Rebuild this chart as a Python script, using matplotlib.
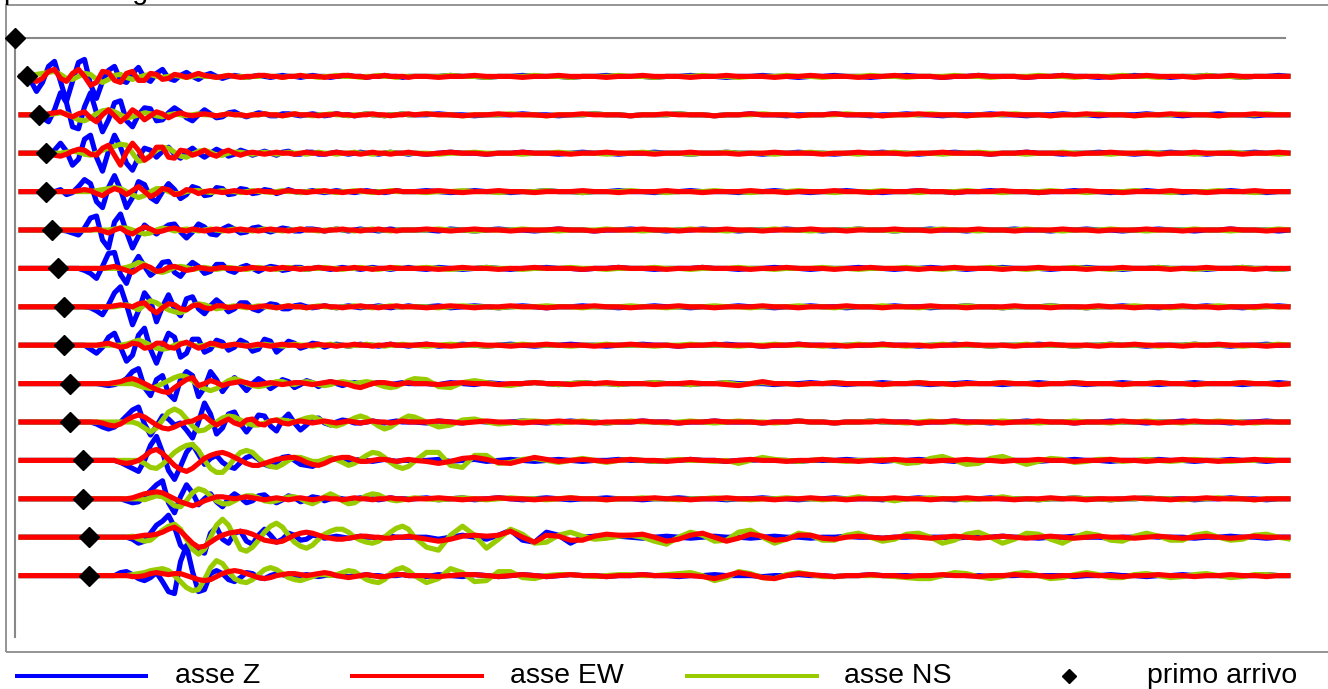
import numpy as np
import matplotlib
matplotlib.use("Agg")
import matplotlib.pyplot as plt
from matplotlib.lines import Line2D
from matplotlib.patches import Rectangle

plt.rcParams['font.family'] = ['Liberation Sans', 'DejaVu Sans']

# ---------------- data ----------------
TITLE = "posizione geofoni"
LABELS = ["asse Z", "asse EW", "asse NS", "primo arrivo"]
COLORS = {"Z": "#0000FF", "EW": "#FF0000", "NS": "#99CC00"}

# sample grid (ms): head samples every 3 ms from 2 ms, tail samples every 6 ms from 206 ms
HEAD_T0, HEAD_DT = 2.0, 3.0
TAIL_T0, TAIL_DT = 206.0, 6.0
GAIN = 1 / 38.4          # amplitude counts -> trace spacing

TRACES = list(range(1, 15))
ARRIVAL_TRACE = list(range(0, 15))
ARRIVAL_MS = [0.0, 6.1, 12.3, 15.6, 15.6, 18.6, 21.6, 24.9, 24.9, 27.8, 27.8, 34.4, 34.4, 37.3, 37.3]

Z_HEAD = [
 [0,0,-4,-15,-6,10,15,-5,-25,-5, 14,17,-8,-22,-5,6,10,-4,-6,3, 9,-2,-5,3,7,-2,-4,1,4,0, -3,1,3,0,-2,0,1,0,-1,0, 1,0,-1,0,1,0,0,-1,0,1, 0,0,-1,0,0,1,0,0,-1,0, 0,1,0,0,-1,0,0],
 [0,0,0,0,-3,-7,5,22,12,-12, -14,8,22,2,-17,-5,12,14,-6,-12, 0,7,6,-6,-5,2,7,3,-3,-6, 0,5,1,-3,-2,2,3,0,-2,0, 2,1,-1,-1,1,1,0,-1,0,1, 0,-1,0,1,0,0,-1,0,1,0, 0,-1,0,0,1,0,0],
 [0,0,0,0,0,-2,3,10,2,-12, -6,14,18,-4,-18,2,18,6,-10,-17, -4,5,3,-4,2,6,-1,-5,1,5, 0,-4,0,4,1,-3,-1,3,1,-2, 0,2,0,-2,1,2,-1,-1,1,1, -1,-1,0,1,0,-1,0,1,0,0, -1,0,1,0,0,-1,0],
 [0,0,0,0,0,0,0,2,-3,-1, 5,12,8,-10,-16,4,16,2,-16,-6, 10,7,-6,-10,0,8,2,-7,-3,5, 3,-4,-3,4,3,-3,-2,3,2,-2, -1,2,1,-2,0,2,0,-1,0,1, 0,-1,0,1,0,0,-1,0,1,0, 0,-1,0,1,0,0,0],
 [0,0,0,0,0,0,0,0,-1,-3, -5,2,12,14,-10,-18,8,16,-2,-18, -6,5,0,-4,1,5,6,-2,-8,-2, 6,3,-4,-5,1,4,1,-3,-2,2, 3,0,-2,0,2,1,-1,-1,1,1, 0,-1,0,1,0,-1,0,1,0,0, -1,0,1,0,0,0,0],
 [0,0,0,0,0,0,0,0,0,0, 0,-2,-5,-10,2,15,16,-6,-15,2, 12,2,-7,-2,6,7,-4,-8,0,6, 2,-5,-3,4,4,-2,-4,1,3,0, -3,0,2,1,-2,-1,1,1,-1,0, 1,0,-1,0,1,0,0,-1,0,1, 0,0,-1,0,0,1,0],
 [0,0,0,0,0,0,0,0,0,0, 0,0,-1,-4,-8,2,14,20,2,-18, -4,14,6,-15,0,12,-2,-9,8,10, -2,-7,1,7,2,-5,-2,4,4,-2, -4,0,3,2,-2,-2,1,2,0,-1, 0,1,0,-1,0,1,0,-1,0,0, 1,0,-1,0,0,1,0],
 [0,0,0,0,0,0,0,0,0,0, 0,0,-4,-8,-2,8,12,-2,-16,-10, 10,17,-4,-18,-2,12,8,-12,-8,6, 6,-7,-4,5,3,-5,-2,5,2,-6, -4,6,4,-7,-2,4,2,-3,-1,2, 1,-2,0,1,0,-1,0,1,0,0, -1,0,1,0,0,-1,0],
 [0,0,0,0,0,0,0,0,0,0, 0,0,0,0,-1,-2,-1,1,5,12, 15,-4,-12,4,8,-10,-16,4,12,8, -13,-4,12,4,-8,0,6,0,-7,0, 5,1,-5,-1,4,2,-4,-1,3,1, -3,0,2,0,-2,0,1,0,-1,0, 1,0,-1,0,1,0,0],
 [0,0,0,0,0,0,0,0,0,0, 0,0,0,-2,-5,-7,-5,0,6,12, 15,-2,-13,-4,6,3,-3,-1,-8,-16, 0,19,8,-12,-6,8,10,-2,-10,-2, 7,6,-4,-9,2,8,-1,-8,-3,3, 4,-1,-3,0,2,1,-1,-1,0,1, 0,-1,0,1,0,0,0],
 [0,0,0,0,0,0,0,0,0,0, 0,0,0,0,0,0,0,-2,-5,-8, -11,0,15,24,8,-10,-19,-6,8,16, 6,-4,2,5,-2,-6,-8,-2,3,5, 1,-4,-6,-2,3,4,0,-4,-5,-6, -3,0,2,1,-1,-2,0,1,0,-1, 0,1,0,-1,0,0,0],
 [0,0,0,0,0,0,0,0,0,0, 0,0,0,0,0,0,0,0,-2,-4, -3,2,8,14,18,-4,-14,2,14,6, -6,0,5,-3,-8,0,5,1,-4,-2, 3,4,-1,-4,-1,3,1,-3,-1,2, 1,-2,0,1,0,-1,0,1,0,0, -1,0,1,0,0,0,0],
 [0,0,0,0,0,0,0,0,0,0, 0,0,0,0,0,0,0,0,0,-2, -6,-4,4,12,16,22,10,-8,-14,-8, -14,-16,4,10,-2,-6,4,6,-4,-7, 2,8,2,-5,-2,4,2,-3,-2,2, 1,-1,0,1,0,-1,0,1,0,0, -1,0,1,0,0,0,0],
 [0,0,0,0,0,0,0,0,0,0, 0,0,0,0,0,0,0,3,4,1, -3,-5,-2,3,-6,-16,-18,14,30,4, -16,-14,2,5,2,-4,-6,-2,3,2, -2,-3,0,2,1,-1,-1,0,1,0, -1,0,1,0,0,-1,0,0,1,0, 0,-1,0,0,1,0,0],
]

Z_TAIL = [
 [0,0,1,0,0,-1,0,0,1,0, 0,0,-1,0,0,1,0,0,0,-1, 0,0,1,0,0,-1,0,0,1,0, 0,-1,0,0,1,0,0,-1,0,0, 1,0,0,-1,0,0,1,0,0,0, -1,0,0,1,0,0,-1,0,0,1, 0,0,-1,0,0,1,0,0,-1,0, 0,1,0],
 [0,1,0,0,-1,0,0,0,1,0, 0,-1,0,0,1,0,0,-1,0,0, 0,1,0,0,-1,0,0,1,0,0, -1,0,0,0,1,0,0,-1,0,0, 1,0,0,-1,0,0,0,1,0,0, -1,0,0,1,0,0,-1,0,0,0, 1,0,0,-1,0,0,1,0,0,-1, 0,0,0],
 [-1,0,1,0,0,-1,0,0,1,0, 0,-1,0,1,0,0,-1,0,0,1, 0,0,-1,0,0,1,0,0,-1,0, 0,1,0,0,-1,0,0,0,1,0, 0,-1,0,0,1,0,0,-1,0,0, 1,0,0,-1,0,0,1,0,0,-1, 0,0,1,0,0,-1,0,0,0,1, 0,0,0],
 [1,0,-1,0,1,0,0,-1,0,0, 1,0,0,-1,0,0,1,0,0,-1, 0,0,1,0,0,0,-1,0,0,1, 0,0,-1,0,0,1,0,0,-1,0, 0,1,0,0,-1,0,0,1,0,0, 0,-1,0,0,1,0,0,-1,0,0, 1,0,0,-1,0,0,0,1,0,0, -1,0,0],
 [0,-1,1,0,-1,0,1,0,0,-1, 0,1,0,0,-1,0,0,1,0,0, -1,0,0,1,0,0,-1,0,0,0, 1,0,0,-1,0,0,1,0,0,-1, 0,0,1,0,0,-1,0,0,0,1, 0,0,-1,0,0,1,0,0,-1,0, 0,1,0,0,-1,0,0,1,0,0, 0,-1,0],
 [-1,1,0,-1,0,1,0,-1,0,0, 1,0,0,-1,0,0,1,0,0,-1, 0,0,0,1,0,0,-1,0,0,1, 0,0,-1,0,0,0,1,0,0,-1, 0,0,1,0,0,-1,0,0,1,0, 0,0,-1,0,0,1,0,0,-1,0, 0,1,0,0,0,-1,0,0,1,0, 0,-1,0],
 [0,1,-1,0,1,0,-1,0,1,0, -1,0,0,1,0,0,-1,0,0,1, 0,0,-1,0,0,0,1,0,0,-1, 0,0,1,0,0,-1,0,0,0,1, 0,0,-1,0,0,1,0,0,-1,0, 0,0,1,0,0,-1,0,0,1,0, 0,-1,0,0,0,1,0,0,-1,0, 0,1,0],
 [1,-1,0,1,0,-1,0,1,0,-1, 0,0,1,0,0,-1,0,0,1,0, 0,-1,0,0,0,1,0,0,-1,0, 0,1,0,0,-1,0,0,0,1,0, 0,-1,0,0,1,0,0,-1,0,0, 0,1,0,0,-1,0,0,1,0,0, -1,0,0,0,1,0,0,-1,0,0, 1,0,0],
 [0,-1,1,0,-1,1,0,-1,0,1, 0,-1,0,1,0,0,-1,0,0,1, 0,0,-1,0,0,1,0,0,0,-1, 0,0,1,0,0,-1,0,0,1,0, 0,0,-1,0,0,1,0,0,-1,0, 0,1,0,0,0,-1,0,0,1,0, 0,-1,0,0,1,0,0,0,-1,0, 0,1,0],
 [-1,1,0,-1,1,0,-1,0,1,0, -1,0,1,0,0,-1,0,0,1,0, 0,-1,0,0,1,0,0,0,-1,0, 0,1,0,0,-1,0,0,1,0,0, 0,-1,0,0,1,0,0,-1,0,0, 1,0,0,0,-1,0,0,1,0,0, -1,0,0,1,0,0,0,-1,0,0, 1,0,0],
 [0,1,-1,0,1,-1,0,1,0,-1, 0,1,0,-1,0,0,1,0,0,-1, 0,0,1,0,0,-1,0,0,1,0, 0,-1,0,0,0,1,0,0,-1,0, 0,1,0,0,-1,0,0,0,1,0, 0,-1,0,0,1,0,0,-1,0,0, 0,1,0,0,-1,0,0,1,0,0, -1,0,0],
 [1,-1,0,1,-1,0,1,0,-1,0, 1,0,-1,0,0,1,0,0,-1,0, 0,1,0,0,0,-1,0,0,1,0, 0,-1,0,0,1,0,0,0,-1,0, 0,1,0,0,-1,0,0,1,0,0, 0,-1,0,0,1,0,0,-1,0,0, 1,0,0,0,-1,0,0,1,0,0, -1,0,0],
 [0,-2,0,2,0,-2,2,7,-3,-5, 5,2,-6,0,1,0,1,0,-1,0, 1,0,-1,0,1,0,0,-1,0,1, 0,0,-1,0,0,1,0,0,-1,0, 0,1,0,0,-1,0,0,0,1,0, 0,-1,0,0,1,0,0,-1,0,0, 1,0,0,0,-1,0,0,1,0,0, -1,0,0],
 [-1,1,0,-1,1,0,-1,0,1,0, -1,0,1,0,0,-1,0,0,1,0, 0,-1,0,0,1,0,0,0,-1,0, 0,1,0,0,-1,0,0,1,0,0, 0,-1,0,0,1,0,0,-1,0,0, 1,0,0,0,-1,0,0,1,0,0, -1,0,0,1,0,0,0,-1,0,0, 1,0,0],
]

EW_HEAD = [
 [0,0,-2,-5,-2,5,7,-2,-5,3, 7,0,-9,-6,5,4,-4,-6,3,5, -4,-4,3,2,-3,-2,2,1,-1,1, 3,1,0,-1,0,1,0,-1,0,0, 1,1,0,0,-1,0,0,1,0,0, 0,-1,0,0,1,1,0,0,-1,0, 0,1,0,0,0,-1,0],
 [0,0,0,0,0,1,2,3,0,-2, 1,3,-3,-7,0,5,-1,-7,-2,5, 1,-5,-1,3,1,-3,0,2,0,-1, 0,1,0,-1,0,1,0,0,-1,0, 0,1,0,0,-1,0,1,0,0,0, -1,0,0,1,0,0,-1,0,0,1, 0,0,-1,0,0,1,0],
 [0,0,0,0,0,-1,-2,-3,-1,2, 4,3,-1,-2,5,8,-2,-12,1,10, 3,-7,-3,6,6,-4,-5,3,2,-2, 0,3,-1,-3,1,3,0,-2,0,1, 0,-1,0,1,0,0,-1,0,1,0, 0,-1,0,1,0,0,0,-1,0,1, 0,0,-1,0,0,1,0],
 [0,0,0,0,0,0,0,0,0,0, 1,2,1,-2,-4,0,3,1,-3,1, 5,0,-5,-2,3,2,-3,-2,2,1, -2,0,1,0,-1,0,1,0,-1,0, 1,0,0,-1,0,1,0,0,-1,0, 0,1,0,0,-1,0,0,1,0,0, -1,0,0,1,0,0,0],
 [0,0,0,0,0,0,0,0,0,0, 0,0,0,1,-1,-3,0,2,-2,-4, 0,3,1,-2,-1,1,2,0,-1,1, 0,-1,0,1,0,-1,0,1,0,0, -1,0,1,0,0,-1,0,1,0,0, 0,-1,0,0,1,0,0,-1,0,0, 1,0,0,-1,0,0,0],
 [0,0,0,0,0,0,0,0,0,0, 0,0,0,0,0,1,2,0,-2,-4, 0,3,1,-3,-2,1,2,0,-2,-1, 1,0,-1,0,1,0,0,-1,0,1, 0,0,-1,0,1,0,0,-1,0,0, 1,0,0,-1,0,0,1,0,0,-1, 0,0,1,0,0,0,0],
 [0,0,0,0,0,0,0,0,0,0, 0,0,0,0,0,0,1,2,1,0, 3,4,-2,-6,-1,3,2,-2,-3,1, 2,-1,-2,1,1,-1,0,1,0,-1, 0,1,0,-1,0,1,0,0,-1,0, 0,1,0,0,-1,0,0,1,0,0, -1,0,0,1,0,0,0],
 [0,0,0,0,0,0,0,0,0,0, 0,0,0,0,1,2,0,-2,-1,2, 1,-3,-2,2,2,-2,-3,1,3,0, -3,-1,2,1,-1,0,1,0,-1,0, 1,0,-1,0,1,0,0,-1,0,0, 1,0,0,-1,0,0,1,0,0,-1, 0,0,1,0,0,0,0],
 [0,0,0,0,0,0,0,0,0,0, 0,0,0,0,0,0,1,2,4,5, 3,0,-3,-6,-8,-9,-4,0,4,6, -2,0,3,1,-2,0,1,2,1,-1, -1,0,1,0,-1,0,1,1,0,-1, 0,1,2,1,0,-1,-3,-4,-2,0, 1,1,0,-1,0,1,0],
 [0,0,0,0,0,0,0,0,0,0, 0,0,0,0,-1,-3,-4,-2,2,5, 7,5,1,-3,-6,-7,-5,-2,0,1, 4,6,1,-3,0,3,-1,-3,2,3, -2,-3,1,2,-1,-2,0,1,0,-1, 0,1,0,-1,0,1,0,-1,0,1, 0,0,-1,0,1,0,0],
 [0,0,0,0,0,0,0,0,0,0, 0,0,0,0,0,0,0,-2,-3,-2, 0,4,9,11,7,1,-5,-9,-11,-8, -3,2,5,7,8,6,3,0,-3,-5, -5,-3,-1,1,2,3,3,1,-2,-4, -5,-3,0,2,3,3,1,-1,-1,0, 1,1,0,-1,0,1,0],
 [0,0,0,0,0,0,0,0,0,0, 0,0,0,0,0,0,0,0,0,1, 3,5,6,7,6,3,0,-3,-5,-7, -5,-2,0,2,2,1,0,1,2,1, 0,-1,0,1,0,-1,0,1,0,-1, 0,1,0,0,-1,0,1,0,0,-1, 0,0,1,0,0,-1,0],
 [0,0,0,0,0,0,0,0,0,0, 0,0,0,0,0,0,0,0,0,0, 1,2,2,3,5,8,10,6,0,-6, -10,-9,-5,-1,2,4,5,6,5,3, 0,-3,-4,-5,-4,-1,2,4,5,4, 2,0,-1,-2,-2,-1,0,1,1,0, 0,-1,-1,0,0,1,0],
 [0,0,0,0,0,0,0,0,0,0, 0,0,0,0,0,0,0,0,0,-1, -1,0,2,3,2,1,2,2,0,-2, -4,-5,-4,-1,2,4,5,4,2,0, -2,-3,-2,0,1,2,2,1,0,1, 2,3,2,0,-1,-2,-1,0,1,0, -1,-1,0,1,1,0,0],
]

EW_TAIL = [
 [0,-1,0,0,1,0,0,0,-1,0, 0,1,0,0,0,-1,0,0,1,0, 0,0,-1,0,0,1,0,0,0,-1, 0,0,1,0,0,0,-1,0,0,1, 0,0,0,-1,0,0,1,0,0,0, -1,0,0,1,0,0,0,-1,0,0, 1,0,0,0,-1,0,0,1,0,0, 0,0,0],
 [1,0,0,-1,0,0,1,0,0,0, -1,0,0,1,0,0,0,-1,0,0, 1,0,0,0,-1,0,0,1,0,0, 0,-1,0,0,1,0,0,0,-1,0, 0,1,0,0,0,-1,0,0,1,0, 0,0,-1,0,0,1,0,0,0,-1, 0,0,1,0,0,0,-1,0,0,1, 0,0,0],
 [-1,0,1,0,0,-1,0,0,1,0, 0,0,-1,0,0,1,0,0,0,-1, 0,0,1,0,0,0,-1,0,0,1, 0,0,0,-1,0,0,1,0,0,0, -1,0,0,1,0,0,0,-1,0,0, 1,0,0,0,-1,0,0,1,0,0, 0,-1,0,0,1,0,0,0,-1,0, 0,1,0],
 [0,1,0,-1,0,0,1,0,0,-1, 0,0,0,1,0,0,-1,0,0,0, 1,0,0,-1,0,0,0,1,0,0, -1,0,0,0,1,0,0,-1,0,0, 0,1,0,0,-1,0,0,0,1,0, 0,-1,0,0,0,1,0,0,-1,0, 0,0,1,0,0,-1,0,0,0,1, 0,0,0],
 [1,0,-1,0,1,0,0,-1,0,0, 0,1,0,0,-1,0,0,0,1,0, 0,-1,0,0,0,1,0,0,-1,0, 0,0,1,0,0,-1,0,0,0,1, 0,0,-1,0,0,0,1,0,0,-1, 0,0,0,1,0,0,-1,0,0,0, 1,0,0,-1,0,0,0,1,0,0, -1,0,0],
 [0,-1,0,1,0,0,-1,0,0,1, 0,0,0,-1,0,0,1,0,0,0, -1,0,0,1,0,0,0,-1,0,0, 1,0,0,0,-1,0,0,1,0,0, 0,-1,0,0,1,0,0,0,-1,0, 0,1,0,0,0,-1,0,0,1,0, 0,0,-1,0,0,1,0,0,0,-1, 0,0,0],
 [-1,0,1,0,-1,0,0,1,0,0, -1,0,0,0,1,0,0,-1,0,0, 0,1,0,0,-1,0,0,0,1,0, 0,-1,0,0,0,1,0,0,-1,0, 0,0,1,0,0,-1,0,0,0,1, 0,0,-1,0,0,0,1,0,0,-1, 0,0,0,1,0,0,-1,0,0,0, 1,0,0],
 [1,0,-1,0,1,0,0,-1,0,0, 1,0,0,0,-1,0,0,1,0,0, 0,-1,0,0,1,0,0,0,-1,0, 0,1,0,0,0,-1,0,0,1,0, 0,0,-1,0,0,1,0,0,0,-1, 0,0,1,0,0,0,-1,0,0,1, 0,0,0,-1,0,0,1,0,0,0, -1,0,0],
 [0,-1,0,1,0,0,-1,0,0,1, 0,0,-1,0,0,1,0,0,0,-1, 0,0,1,0,0,-1,-2,0,2,0, 0,-1,0,0,1,0,0,0,-1,0, 0,1,0,0,-1,0,0,0,1,0, 0,-1,0,0,1,0,0,0,-1,0, 0,1,0,0,-1,0,0,0,1,0, 0,-1,0],
 [0,1,0,-1,0,1,0,0,-1,0, 0,1,0,0,-1,0,0,0,1,0, 0,-1,0,0,1,0,0,0,-1,0, 0,1,0,0,-1,0,0,0,1,0, 0,-1,0,0,1,0,0,0,-1,0, 0,1,0,0,-1,0,0,0,1,0, 0,-1,0,0,1,0,0,0,-1,0, 0,0,0],
 [-1,-3,-1,2,3,1,-2,-3,0,3, 1,-1,0,1,0,-1,0,1,0,0, -1,0,1,0,0,-1,0,1,0,0, -1,0,0,1,0,0,-1,0,0,1, 0,0,-1,0,0,1,0,0,-1,0, 0,1,0,0,-1,0,0,1,0,0, -1,0,0,1,0,0,-1,0,0,1, 0,0,0],
 [0,1,0,-1,0,0,1,0,0,-1, 0,0,1,0,0,-1,0,0,0,1, 0,0,-1,0,0,1,0,0,0,-1, 0,0,1,0,0,-1,0,0,0,1, 0,0,-1,0,0,1,0,0,0,-1, 0,0,1,0,0,-1,0,0,0,1, 0,0,-1,0,0,1,0,0,0,-1, 0,0,0],
 [-2,-4,-2,1,2,1,2,6,0,-5, 2,1,-3,-3,1,3,2,2,3,0, -4,-2,2,4,0,-4,-1,3,1,-3, -2,2,2,-1,-2,0,1,0,-1,0, 1,0,-1,0,1,0,-1,0,1,0, -1,0,1,0,-1,0,1,0,0,-1, 0,1,0,-1,0,1,0,-1,0,1, 0,0,0],
 [0,-1,0,1,1,0,-1,0,1,0, -1,0,1,0,0,-1,0,0,1,0, 0,0,0,-1,-3,0,3,1,-2,-3, 0,2,1,0,-1,0,0,1,0,0, -1,0,0,1,0,0,-1,0,0,1, 0,0,-1,0,0,1,0,0,-1,0, 0,1,0,0,-1,0,0,1,0,0, -1,0,0],
]

NS_HEAD = [
 [0,0,1,2,3,4,5,2,-2,-3, 0,3,2,-3,-6,-3,1,2,-1,-3, -1,1,2,0,-1,0,1,0,-1,0, 1,0,0,-1,0,1,0,0,-1,0, 0,1,0,0,-1,0,0,1,0,0, -1,0,0,1,0,0,0,-1,0,0, 1,0,0,-1,0,0,0],
 [0,0,0,0,0,0,1,2,1,-2, -5,-6,-3,1,4,5,3,0,-3,-2, 0,2,1,-1,-2,0,1,0,-1,0, 1,0,0,-1,0,1,0,0,-1,0, 0,1,0,0,-1,0,1,0,0,-1, 0,0,1,0,0,-1,0,0,1,0, 0,-1,0,0,1,0,0],
 [0,0,0,0,0,0,0,0,1,2, 1,-1,-2,0,3,5,7,9,8,0, -8,-7,-2,3,6,5,1,-3,-4,-1, 2,3,1,-2,-2,0,1,1,0,-1, 0,1,0,-1,0,1,0,0,-1,0, 1,0,0,-1,0,0,1,0,0,-1, 0,0,1,0,0,0,0],
 [0,0,0,0,0,0,0,0,0,0, 0,0,0,1,2,3,4,3,0,-3, -6,-4,0,3,3,0,-2,-2,0,1, 1,0,-1,0,1,0,0,-1,0,1, 0,0,-1,0,1,0,0,-1,0,0, 1,0,0,-1,0,0,1,0,0,-1, 0,0,1,0,0,0,0],
 [0,0,0,0,0,0,0,0,0,0, 0,0,0,0,0,0,1,2,2,0, -2,-4,-3,0,2,1,-1,0,1,0, -1,0,1,0,-1,0,1,0,0,-1, 0,1,0,0,-1,0,0,1,0,0, -1,0,0,1,0,0,-1,0,0,1, 0,0,-1,0,0,0,0],
 [0,0,0,0,0,0,0,0,0,0, 0,0,0,0,0,0,0,0,1,3, 6,4,0,-3,-4,-2,1,2,1,-1, 0,1,0,-1,0,1,0,0,-1,0, 1,0,0,-1,0,1,0,0,-1,0, 0,1,0,0,-1,0,0,1,0,0, -1,0,0,1,0,0,0],
 [0,0,0,0,0,0,0,0,0,0, 0,0,0,0,0,0,0,1,2,0, -3,2,6,4,0,-3,-5,-6,-3,1, 3,2,0,-2,-1,0,1,0,-1,0, 1,0,0,-1,0,1,0,0,-1,0, 1,0,0,-1,0,0,1,0,0,-1, 0,0,1,0,0,0,0],
 [0,0,0,0,0,0,0,0,0,0, 0,0,0,0,0,0,0,0,1,3, 5,3,0,-3,-4,-3,0,2,2,0, -1,0,1,0,-1,0,1,0,0,-1, 0,1,0,0,-1,0,1,0,0,-1, 0,0,1,0,0,-1,0,0,1,0, 0,-1,0,0,1,0,0],
 [0,0,0,0,0,0,0,0,0,0, 0,0,0,0,0,0,0,0,0,0, -2,-4,-5,-3,0,3,6,8,7,3, -2,-5,-7,-5,-1,3,5,3,0,-2, -3,-2,0,2,2,0,-1,1,2,1, -1,-2,-1,1,2,1,0,1,2,1, -1,-3,-4,-3,0,3,5],
 [0,0,0,0,0,0,0,0,0,0, 0,0,0,0,0,0,0,0,0,0, -2,-6,-10,-6,2,10,13,10,3,-4, -9,-8,-4,0,4,6,5,2,-1,-3, -3,-1,1,2,2,1,0,2,4,5, 3,0,-3,-4,-2,1,4,6,4,0, -4,-7,-5,-1,3,6,5],
 [0,0,0,0,0,0,0,0,0,0, 0,0,0,0,0,0,0,0,0,0, 0,-3,-7,-8,-4,2,8,12,15,16, 10,0,-8,-12,-12,-6,2,8,10,8, 2,-3,-6,-7,-4,0,3,3,1,-1, -1,1,3,1,-2,-5,-3,1,5,8, 7,3,-2,-6,-8,-6,-1],
 [0,0,0,0,0,0,0,0,0,0, 0,0,0,0,0,0,0,0,0,0, 0,-1,1,3,2,-2,-7,-8,-2,6, 10,8,3,-2,-5,-5,-2,1,3,3, 1,-2,-3,-2,0,2,2,0,-3,-5, -2,2,5,2,-2,-5,-4,0,3,5, 4,1,-1,-2,-1,0,1],
 [0,0,0,0,0,0,0,0,0,0, 0,0,0,0,0,0,0,0,0,1, -2,-4,-3,2,7,11,13,8,-2,-12, -17,-12,0,12,18,12,0,-12,-14,-10, -3,5,11,14,10,2,-5,-9,-11,-8, -2,3,6,8,8,5,0,-3,-5,-6, -4,0,5,9,11,8,0],
 [0,0,0,0,0,0,0,0,0,0, 0,0,0,0,0,0,0,0,0,1, 2,3,5,6,7,5,0,-6,-12,-15, -14,-4,8,15,12,4,-3,-6,-7,-4, 1,6,8,6,2,-2,-4,-5,-3,-1, 1,1,0,1,3,5,4,0,-4,-6, -7,-4,2,6,8,5,0],
]

NS_TAIL = [
 [0,0,1,0,0,-1,0,0,0,1, 0,0,-1,0,0,0,1,0,0,-1, 0,0,0,1,0,0,-1,0,0,0, 1,0,0,-1,0,0,0,1,0,0, -1,0,0,0,1,0,0,-1,0,0, 0,1,0,0,-1,0,0,0,1,0, 0,-1,0,0,0,1,0,0,-1,0, 0,0,0],
 [1,0,0,-1,0,0,0,1,0,0, -1,0,0,0,1,0,0,-1,0,0, 0,1,0,0,-1,0,0,0,1,0, 0,-1,0,0,0,1,0,0,-1,0, 0,0,1,0,0,-1,0,0,0,1, 0,0,-1,0,0,0,1,0,0,-1, 0,0,0,1,0,0,-1,0,0,0, 1,0,0],
 [0,-1,0,0,1,0,0,0,-1,0, 0,1,0,0,0,-1,0,0,1,0, 0,0,-1,0,0,1,0,0,0,-1, 0,0,1,0,0,0,-1,0,0,1, 0,0,0,-1,0,0,1,0,0,0, -1,0,0,1,0,0,0,-1,0,0, 1,0,0,0,-1,0,0,1,0,0, 0,-1,0],
 [-1,0,0,1,0,0,-1,0,0,0, 1,0,0,-1,0,0,0,1,0,0, -1,0,0,0,1,0,0,-1,0,0, 0,1,0,0,-1,0,0,0,1,0, 0,-1,0,0,0,1,0,0,-1,0, 0,0,1,0,0,-1,0,0,0,1, 0,0,-1,0,0,0,1,0,0,-1, 0,0,0],
 [0,1,0,0,-1,0,0,0,1,0, 0,-1,0,0,0,1,0,0,-1,0, 0,0,1,0,0,-1,0,0,0,1, 0,0,-1,0,0,0,1,0,0,-1, 0,0,0,1,0,0,-1,0,0,0, 1,0,0,-1,0,0,0,1,0,0, -1,0,0,0,1,0,0,-1,0,0, 0,1,0],
 [1,0,-1,0,0,1,0,0,-1,0, 0,0,1,0,0,-1,0,0,0,1, 0,0,-1,0,0,0,1,0,0,-1, 0,0,0,1,0,0,-1,0,0,0, 1,0,0,-1,0,0,0,1,0,0, -1,0,0,0,1,0,0,-1,0,0, 0,1,0,0,-1,0,0,0,1,0, 0,-1,0],
 [0,-1,0,1,0,0,-1,0,0,0, 1,0,0,-1,0,0,0,1,0,0, -1,0,0,0,1,0,0,-1,0,0, 0,1,0,0,-1,0,0,0,1,0, 0,-1,0,0,0,1,0,0,-1,0, 0,0,1,0,0,-1,0,0,0,1, 0,0,-1,0,0,0,1,0,0,-1, 0,0,0],
 [-1,0,1,0,0,-1,0,0,1,0, 0,0,-1,0,0,1,0,0,0,-1, 0,0,1,0,0,0,-1,0,0,1, 0,0,0,-1,0,0,1,0,0,0, -1,0,0,1,0,0,0,-1,0,0, 1,0,0,0,-1,0,0,1,0,0, 0,-1,0,0,1,0,0,0,-1,0, 0,1,0],
 [4,-3,-4,1,3,1,-1,-2,0,1, 0,-1,0,1,0,0,-1,0,0,1, 0,0,-1,0,0,1,-1,0,1,0, 0,-1,0,0,1,0,0,0,-1,0, 0,1,0,0,-1,0,0,0,1,0, 0,-1,0,0,1,0,0,0,-1,0, 0,1,0,0,-1,0,0,0,1,0, 0,-1,0],
 [0,-5,-3,2,3,0,-2,-1,1,1, 0,-1,0,1,0,-1,0,1,0,0, -1,0,1,0,-1,0,1,0,0,-1, 0,1,0,0,-1,0,0,1,0,0, -1,0,1,0,0,-1,0,0,1,0, 0,-1,0,0,1,0,0,-1,0,0, 1,0,0,-1,0,0,1,0,0,-1, 0,0,0],
 [8,8,-5,-7,5,5,-3,-2,1,2, 0,-2,0,2,0,-2,0,1,0,-1, 0,1,0,0,-1,0,-3,0,3,1, 0,-1,0,1,0,-1,0,0,1,0, -3,-2,2,4,0,-4,-3,2,4,0, -4,-1,2,1,-2,-1,1,1,-1,0, 1,0,-1,0,1,0,0,-1,0,0, 1,0,0],
 [0,-1,0,1,0,-1,0,1,0,0, -1,0,1,0,0,-1,0,0,1,0, 0,-1,0,0,1,0,0,-1,0,0, 1,0,0,-1,0,0,2,0,0,-2, 0,0,1,0,0,-1,0,0,2,0, 0,-1,0,0,1,0,0,-1,0,0, 1,0,0,-1,0,0,1,0,0,-1, 0,0,0],
 [-10,-13,2,11,2,-11,-2,8,3,-6, -5,2,5,1,-2,-1,1,2,0,-4, -7,0,5,2,-4,-3,5,7,0,-6, -2,4,2,-3,-3,2,4,0,-4,-2, 3,4,0,-6,-3,3,5,0,-6,-2, 4,3,-2,-6,0,4,2,-3,-4,1, 4,1,-3,-3,2,4,0,-3,-2,2, 3,0,-2],
 [-7,-3,7,3,-6,-5,4,4,-2,-3, 0,1,1,0,-1,0,1,1,0,0, 1,2,3,0,-5,-2,4,2,-2,-3, 1,3,1,-1,-1,0,0,0,0,-1, -2,-3,-3,0,3,2,-1,-3,-1,2, 3,0,-3,-2,1,3,1,-2,-2,1, 2,0,-2,-1,1,2,0,-2,-1,1, 1,0,0],
]

# ---------------- figure ----------------
W, H = 1328, 689
fig = plt.figure(figsize=(W / 100, H / 100), dpi=100)

AX_L, AX_R, AX_T, AX_B = 14.5, 1290.5, 38.0, 652.4
ax = fig.add_axes([AX_L / W, 1 - AX_B / H, (AX_R - AX_L) / W, (AX_B - AX_T) / H])
ax.set_xlim(0, 638)
ax.set_ylim(16, 0)


def trace_xy(head, tail, k):
    head = np.asarray(head, float)
    tail = np.asarray(tail, float)
    t = np.concatenate([HEAD_T0 + HEAD_DT * np.arange(len(head)),
                        TAIL_T0 + TAIL_DT * np.arange(len(tail))])
    amp = np.concatenate([head, tail])
    return t, k - amp * GAIN


LW = 3.7
for heads, tails, key, z in [(Z_HEAD, Z_TAIL, "Z", 2), (NS_HEAD, NS_TAIL, "NS", 3), (EW_HEAD, EW_TAIL, "EW", 4)]:
    for idx, k in enumerate(TRACES):
        t, y = trace_xy(heads[idx], tails[idx], k)
        ax.plot(t, y, color=COLORS[key], lw=LW, zorder=z, clip_on=False,
                solid_capstyle='butt')

ax.plot(ARRIVAL_MS, ARRIVAL_TRACE, linestyle='none', marker='D', ms=10,
        color='black', zorder=6, clip_on=False)

for s in ['right', 'bottom']:
    ax.spines[s].set_visible(False)
for s in ['top', 'left']:
    ax.spines[s].set_color('#888888')
    ax.spines[s].set_linewidth(1.5)
ax.spines['top'].set_bounds(0, 635.3)
ax.spines['left'].set_bounds(0, 15.6)
ax.set_xticks([])
ax.set_yticks([])
ax.patch.set_alpha(0)

# outer chart frame
fig.add_artist(Rectangle((6 / W, 1 - 652 / H), (1345 - 6) / W, (652 - 5) / H,
                         transform=fig.transFigure, fill=False,
                         edgecolor='#8c8c8c', lw=1.3, clip_on=False, zorder=0))

# title (mostly above the visible canvas, as in the reference)
fig.text(4 / W, 1 + 1 / H, TITLE, fontsize=20.5, ha='left', va='baseline', color='black')

# legend
FS = 20.5
y_line = 1 - 676 / H
y_text = 1 - 683 / H
entries = [(15, 148, COLORS["Z"], LABELS[0], 175),
           (350, 484, COLORS["EW"], LABELS[1], 510),
           (685, 819, COLORS["NS"], LABELS[2], 844)]
for x0, x1, col, lab, xt in entries:
    fig.add_artist(Line2D([x0 / W, x1 / W], [y_line, y_line], transform=fig.transFigure,
                          color=col, lw=2.9, solid_capstyle='butt'))
    fig.text(xt / W, y_text, lab, fontsize=FS, ha='left', va='baseline', color='black')
fig.add_artist(Line2D([1069 / W], [y_line], transform=fig.transFigure, marker='D',
                      ms=7.5, color='black', linestyle='none'))
fig.text(1147 / W, y_text, LABELS[3], fontsize=FS, ha='left', va='baseline', color='black')

fig.savefig("out.png", dpi=100)
